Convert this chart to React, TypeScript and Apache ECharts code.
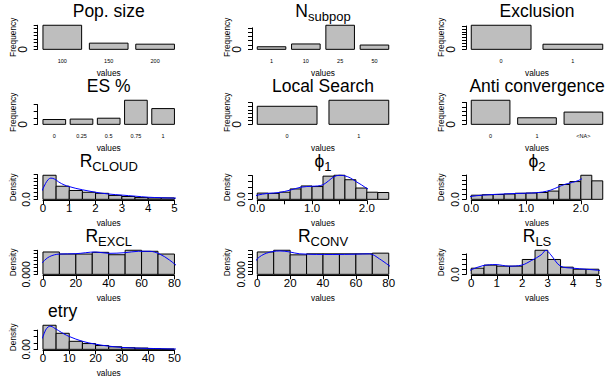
import React, { useEffect, useRef } from "react";
import * as echarts from "echarts";

const FONT = "'Liberation Sans', Arial, Helvetica, 'DejaVu Sans', sans-serif";

// ---------------- data ----------------
const popSizeCats = ["100", "150", "200"];
const popSizeCounts = [140, 36, 30];
const nSubpopCats = ["1", "10", "25", "50"];
const nSubpopCounts = [12, 25, 112, 20];
const exclusionCats = ["0", "1"];
const exclusionCounts = [165, 35];
const esCats = ["0", "0.25", "0.5", "0.75", "1"];
const esCounts = [11, 12, 14, 55, 36];
const localSearchCats = ["0", "1"];
const localSearchCounts = [75, 100];
const antiConvCats = ["0", "1", "<NA>"];
const antiConvCounts = [110, 30, 56];

const rCloudBreaks = [0, 0.5, 1, 1.5, 2, 2.5, 3, 3.5, 4, 4.5, 5];
const rCloudDens = [0.68, 0.37, 0.25, 0.2, 0.17, 0.11, 0.08, 0.05, 0.04, 0.04];
const rCloudCurveX = [-0.2, -0.1, 0, 0.1, 0.2, 0.3, 0.45, 0.6, 0.8, 1.0, 1.25, 1.5, 2.0, 2.5, 3.0, 3.5, 4.0, 4.5, 5.0, 5.2];
const rCloudCurveY = [0.1, 0.17, 0.3, 0.45, 0.56, 0.6, 0.57, 0.49, 0.41, 0.36, 0.31, 0.27, 0.2, 0.15, 0.12, 0.09, 0.06, 0.045, 0.035, 0.03];

const phi1Breaks = [0, 0.2, 0.4, 0.6, 0.8, 1.0, 1.2, 1.4, 1.6, 1.8, 2.0, 2.2, 2.4];
const phi1Dens = [0.21, 0.2, 0.24, 0.35, 0.45, 0.43, 0.78, 0.81, 0.66, 0.38, 0.24, 0.23];
const phi1CurveX = [-0.096, 0.0, 0.2, 0.4, 0.6, 0.8, 1.0, 1.1, 1.2, 1.3, 1.4, 1.5, 1.6, 1.7, 1.8, 1.9, 2.0, 2.1, 2.2, 2.3, 2.4, 2.496];
const phi1CurveY = [0.06, 0.14, 0.2, 0.23, 0.31, 0.41, 0.44, 0.45, 0.49, 0.62, 0.76, 0.81, 0.79, 0.72, 0.6, 0.49, 0.37, 0.29, 0.24, 0.21, 0.15, 0.08];

const phi2Breaks = [0, 0.2, 0.4, 0.6, 0.8, 1.0, 1.2, 1.4, 1.6, 1.8, 2.0, 2.2, 2.4];
const phi2Dens = [0.17, 0.19, 0.2, 0.22, 0.25, 0.26, 0.28, 0.34, 0.61, 0.73, 0.99, 0.76];
const phi2CurveX = [-0.096, 0.0, 0.2, 0.5, 0.8, 1.1, 1.3, 1.45, 1.6, 1.7, 1.8, 1.9, 2.0, 2.1, 2.2, 2.3, 2.4, 2.496];
const phi2CurveY = [0.06, 0.12, 0.17, 0.21, 0.24, 0.26, 0.3, 0.38, 0.52, 0.61, 0.67, 0.73, 0.82, 0.96, 0.92, 0.55, 0.25, 0.1];

const rExclBreaks = [0, 10, 20, 30, 40, 50, 60, 70, 80];
const rExclDens = [0.013, 0.0118, 0.0118, 0.0128, 0.0114, 0.014, 0.0134, 0.0118];
const rExclCurveX = [-3.2, 0, 4, 10, 20, 32, 40, 50, 58, 65, 71, 77, 83.2];
const rExclCurveY = [0.0035, 0.0072, 0.0103, 0.0118, 0.012, 0.013, 0.0122, 0.0126, 0.0134, 0.0134, 0.0118, 0.0083, 0.0035];

const rConvBreaks = [0, 10, 20, 30, 40, 50, 60, 70, 80];
const rConvDens = [0.0132, 0.0142, 0.0115, 0.0121, 0.0121, 0.0121, 0.0121, 0.0125];
const rConvCurveX = [-3.2, 0, 5.7, 13.8, 19.8, 25.9, 46, 60, 68.3, 74.4, 83.2];
const rConvCurveY = [0.0034, 0.0091, 0.0125, 0.0138, 0.0132, 0.0121, 0.0117, 0.0119, 0.0121, 0.0091, 0.003];

const rLsBreaks = [0, 0.5, 1, 1.5, 2, 2.5, 3, 3.5, 4, 4.5, 5];
const rLsDens = [0.12, 0.18, 0.16, 0.16, 0.29, 0.47, 0.29, 0.14, 0.1, 0.1];
const rLsCurveX = [-0.2, 0, 0.46, 0.97, 1.47, 1.98, 2.36, 2.74, 2.93, 3.12, 3.5, 4.0, 4.51, 4.96, 5.2];
const rLsCurveY = [0.04, 0.09, 0.17, 0.19, 0.16, 0.18, 0.27, 0.38, 0.47, 0.38, 0.16, 0.12, 0.1, 0.08, 0.06];

const etryBreaks = [0, 5, 10, 15, 20, 25, 30, 35, 40, 45, 50];
const etryDens = [0.075, 0.05, 0.025, 0.018, 0.012, 0.008, 0.005, 0.004, 0.002, 0.001];
const etryCurveX = [-2, 0, 1, 2, 3, 4, 6, 8, 10, 15, 20, 25, 30, 35, 40, 45, 50, 52];
const etryCurveY = [0.01, 0.04, 0.06, 0.07, 0.072, 0.068, 0.058, 0.048, 0.04, 0.025, 0.016, 0.01, 0.006, 0.004, 0.003, 0.002, 0.001, 0.001];

// ---------------- panel definitions ----------------
type BarPanel = {
  kind: "bar"; row: number; col: number; title: string; titleShift?: number;
  cats: string[]; counts: number[]; yStep: number;
};
type HistPanel = {
  kind: "hist"; row: number; col: number; title: string; titleShift?: number;
  breaks: number[]; dens: number[]; cx: number[]; cy: number[];
  xTick: [number, number, number]; xShown: string[]; xDigits: number;
  yStep: number; yZero: string;
};
type Panel = BarPanel | HistPanel;

const panels: Panel[] = [
  { kind: "bar", row: 0, col: 0, title: "{m|Pop. size}", cats: popSizeCats, counts: popSizeCounts, yStep: 20 },
  { kind: "bar", row: 0, col: 1, title: "{m|N}{s|subpop}", cats: nSubpopCats, counts: nSubpopCounts, yStep: 20 },
  { kind: "bar", row: 0, col: 2, title: "{m|Exclusion}", cats: exclusionCats, counts: exclusionCounts, yStep: 20 },
  { kind: "bar", row: 1, col: 0, title: "{m|ES %}", cats: esCats, counts: esCounts, yStep: 15 },
  { kind: "bar", row: 1, col: 1, title: "{m|Local Search}", cats: localSearchCats, counts: localSearchCounts, yStep: 15 },
  { kind: "bar", row: 1, col: 2, title: "{m|Anti convergence}", cats: antiConvCats, counts: antiConvCounts, yStep: 20 },
  { kind: "hist", row: 2, col: 0, title: "{m|R}{s|CLOUD}", breaks: rCloudBreaks, dens: rCloudDens, cx: rCloudCurveX, cy: rCloudCurveY, xTick: [0, 5, 1], xShown: ["0", "1", "2", "3", "4", "5"], xDigits: 0, yStep: 0.1, yZero: "0.0" },
  { kind: "hist", row: 2, col: 1, title: "{m|\u03D5}{s|1}", breaks: phi1Breaks, dens: phi1Dens, cx: phi1CurveX, cy: phi1CurveY, xTick: [0, 2, 0.5], xShown: ["0.0", "1.0", "2.0"], xDigits: 1, yStep: 0.2, yZero: "0.0" },
  { kind: "hist", row: 2, col: 2, title: "{m|\u03D5}{s|2}", breaks: phi2Breaks, dens: phi2Dens, cx: phi2CurveX, cy: phi2CurveY, xTick: [0, 2, 0.5], xShown: ["0.0", "1.0", "2.0"], xDigits: 1, yStep: 0.2, yZero: "0.0" },
  { kind: "hist", row: 3, col: 0, title: "{m|R}{s|EXCL}", breaks: rExclBreaks, dens: rExclDens, cx: rExclCurveX, cy: rExclCurveY, xTick: [0, 80, 20], xShown: ["0", "20", "40", "60", "80"], xDigits: 0, yStep: 0.002, yZero: "0.000" },
  { kind: "hist", row: 3, col: 1, title: "{m|R}{s|CONV}", breaks: rConvBreaks, dens: rConvDens, cx: rConvCurveX, cy: rConvCurveY, xTick: [0, 80, 20], xShown: ["0", "20", "40", "60", "80"], xDigits: 0, yStep: 0.002, yZero: "0.000" },
  { kind: "hist", row: 3, col: 2, title: "{m|R}{s|LS}", breaks: rLsBreaks, dens: rLsDens, cx: rLsCurveX, cy: rLsCurveY, xTick: [0, 5, 1], xShown: ["0", "1", "2", "3", "4", "5"], xDigits: 0, yStep: 0.1, yZero: "0.0" },
  { kind: "hist", row: 4, col: 0, title: "{m|etry}", titleShift: -46, breaks: etryBreaks, dens: etryDens, cx: etryCurveX, cy: etryCurveY, xTick: [0, 50, 10], xShown: ["0", "10", "20", "30", "40", "50"], xDigits: 0, yStep: 0.02, yZero: "0.00" },
];

// ---------------- layout ----------------
const PW = 142;
const PH = 26;
const COL_L = [37.7, 252, 466];
const ROW_T0 = 24.3;
const ROW_STEP = 75;

const BLACK = "#000000";

function buildOption() {
  const grid: any[] = [];
  const xAxis: any[] = [];
  const yAxis: any[] = [];
  const series: any[] = [];
  const graphic: any[] = [];

  panels.forEach((p, i) => {
    const L = COL_L[p.col];
    const T = ROW_T0 + ROW_STEP * p.row;
    let xlo: number, xhi: number, ymax: number;
    let items: number[][];
    let xa: [number, number, number];
    if (p.kind === "bar") {
      const n = p.counts.length;
      xlo = -0.5;
      xhi = (n - 1) * 1.2 + 0.5;
      items = p.counts.map((c, k) => [k * 1.2 - 0.5, k * 1.2 + 0.5, c]);
      ymax = Math.max(...p.counts);
      xa = [0, +((n - 1) * 1.2).toFixed(6), 1.2];
    } else {
      xlo = p.breaks[0];
      xhi = p.breaks[p.breaks.length - 1];
      items = p.dens.map((d, k) => [p.breaks[k], p.breaks[k + 1], d]);
      ymax = Math.max(...p.dens);
      xa = p.xTick;
    }
    const xr = xhi - xlo;
    const x0 = xlo - 0.04 * xr;
    const x1 = xhi + 0.04 * xr;
    const y0 = -0.04 * ymax;
    const y1 = 1.04 * ymax;
    const px = (x: number) => L + ((x - x0) / (x1 - x0)) * PW;
    const py = (y: number) => T + PH - ((y - y0) / (y1 - y0)) * PH;
    const yLast = +(Math.floor(y1 / p.yStep + 1e-9) * p.yStep).toFixed(8);

    const gl = px(xa[0]);
    const gr = px(xa[1]);
    const gt = py(yLast);
    const gb = py(0);
    grid.push({ left: gl, top: gt, width: gr - gl, height: gb - gt, containLabel: false });

    const isHist = p.kind === "hist";
    const cats = p.kind === "bar" ? p.cats : [];
    xAxis.push({
      gridIndex: i,
      type: "value",
      min: xa[0],
      max: xa[1],
      interval: xa[2],
      offset: T + PH - gb,
      axisLine: { show: isHist, onZero: false, lineStyle: { color: BLACK, width: 1 } },
      axisTick: { show: isHist, length: 4, lineStyle: { color: BLACK, width: 1 } },
      splitLine: { show: false },
      axisLabel: isHist
        ? {
            show: true,
            margin: 2,
            fontSize: 11.5,
            fontFamily: FONT,
            color: BLACK,
            formatter: (v: number) => {
              const s = (p as HistPanel).xDigits > 0 ? v.toFixed((p as HistPanel).xDigits) : String(Math.round(v));
              return (p as HistPanel).xShown.indexOf(s) >= 0 ? s : "";
            },
          }
        : {
            show: true,
            margin: 8,
            fontSize: 5.5,
            fontFamily: FONT,
            color: BLACK,
            formatter: (v: number) => cats[Math.round(v / 1.2)] ?? "",
          },
    });
    yAxis.push({
      gridIndex: i,
      type: "value",
      min: 0,
      max: yLast,
      interval: p.yStep,
      offset: gl - L,
      axisLine: { show: true, onZero: false, lineStyle: { color: BLACK, width: 1 } },
      axisTick: { show: true, length: 4, lineStyle: { color: BLACK, width: 1 } },
      splitLine: { show: false },
      axisLabel: {
        show: isHist,
        showMinLabel: true,
        rotate: 90,
        align: "center",
        verticalAlign: "bottom",
        margin: 6,
        fontSize: 10.5,
        fontFamily: FONT,
        color: BLACK,
        formatter: (v: number) => (Math.abs(v) < 1e-9 && isHist ? (p as HistPanel).yZero : ""),
      },
    });

    series.push({
      type: "custom",
      xAxisIndex: i,
      yAxisIndex: i,
      clip: false,
      silent: true,
      encode: { x: [0, 1], y: 2 },
      data: items,
      renderItem: (_params: any, api: any) => {
        const a = api.coord([api.value(0), 0]);
        const b = api.coord([api.value(1), api.value(2)]);
        return {
          type: "rect",
          shape: { x: a[0], y: b[1], width: b[0] - a[0], height: a[1] - b[1] },
          style: { fill: "#BEBEBE", stroke: BLACK, lineWidth: 1 },
        };
      },
    });
    if (p.kind === "hist") {
      series.push({
        type: "line",
        xAxisIndex: i,
        yAxisIndex: i,
        clip: false,
        silent: true,
        smooth: 0.35,
        showSymbol: false,
        lineStyle: { color: "#0000FF", width: 1 },
        data: p.cx.map((x, k) => [x, p.cy[k]]),
      });
    } else {
      // zero label of the frequency axis
      graphic.push({
        type: "text",
        x: L - 9,
        y: gb,
        rotation: Math.PI / 2,
        silent: true,
        style: {
          text: "0",
          fontSize: 12,
          fontFamily: FONT,
          fill: BLACK,
          align: "center",
          verticalAlign: "bottom",
        },
      });
    }

    // title
    graphic.push({
      type: "text",
      x: L + PW / 2 + (p.titleShift ?? 0),
      y: T - 13.1,
      silent: true,
      style: {
        text: p.title,
        align: "center",
        verticalAlign: "middle",
        fill: BLACK,
        rich: {
          m: { fontSize: 17.5, lineHeight: 24, fontFamily: FONT, fill: BLACK },
          s: { fontSize: 13, lineHeight: 13, padding: [11, 0, 0, 0], fontFamily: FONT, fill: BLACK },
        },
      },
    });
    graphic.push({
      type: "text",
      x: L + PW / 2,
      y: T + 48.5,
      silent: true,
      style: { text: "values", fontSize: 8.3, fontFamily: FONT, fill: BLACK, align: "center", verticalAlign: "middle" },
    });
    graphic.push({
      type: "text",
      x: L - 25,
      y: T + PH / 2,
      rotation: Math.PI / 2,
      silent: true,
      style: {
        text: isHist ? "Density" : "Frequency",
        fontSize: 8.3,
        fontFamily: FONT,
        fill: BLACK,
        align: "center",
        verticalAlign: "middle",
      },
    });
  });

  return {
    animation: false,
    backgroundColor: "#FFFFFF",
    grid,
    xAxis,
    yAxis,
    series,
    graphic,
  };
}

export default function App() {
  const ref = useRef<HTMLDivElement>(null);
  useEffect(() => {
    if (!ref.current) return;
    const chart = echarts.init(ref.current, undefined, { renderer: "svg" });
    chart.setOption(buildOption() as any);
    return () => chart.dispose();
  }, []);
  return (
    <div
      ref={ref}
      style={{ position: "absolute", left: 0, top: 0, width: 605, height: 382, background: "#fff" }}
    />
  );
}
